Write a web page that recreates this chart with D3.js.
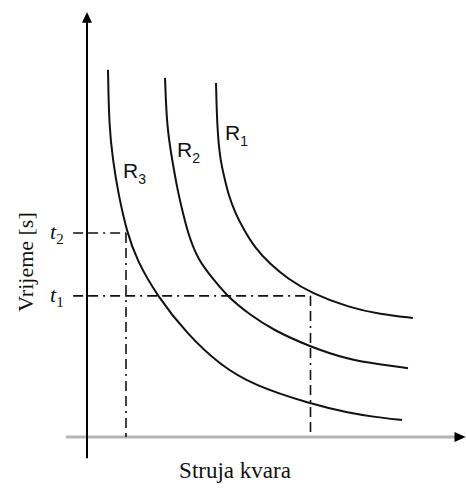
<!DOCTYPE html>
<html>
<head>
<meta charset="utf-8">
<script src="https://cdn.jsdelivr.net/npm/d3@7"></script>
<style>
  body { margin: 0; background: #fff; }
  svg { display: block; }
</style>
</head>
<body>
<div id="chart"></div>
<script>
// curve readings (current, time) in arbitrary units
const r1Current = [3.44, 3.47, 3.55, 3.68, 3.76, 3.95, 4.19, 4.48, 4.88, 5.36, 5.97, 7.01, 7.81, 8.69];
const r1Time = [8.33, 7.29, 6.52, 6.05, 5.74, 5.27, 4.87, 4.45, 4.07, 3.72, 3.39, 3.04, 2.89, 2.80];
const r2Current = [2.08, 2.13, 2.27, 2.43, 2.56, 2.69, 2.96, 3.39, 3.73, 4.35, 4.96, 5.95, 7.01, 7.81, 8.56];
const r2Time = [8.45, 7.29, 6.52, 5.74, 5.27, 4.80, 4.16, 3.69, 3.32, 2.87, 2.52, 2.12, 1.81, 1.71, 1.62];
const r3Current = [0.56, 0.59, 0.69, 0.83, 1.07, 1.33, 1.87, 2.67, 3.55, 4.43, 5.95, 7.01, 7.68, 8.40];
const r3Time = [8.64, 7.29, 6.52, 5.74, 4.80, 4.16, 3.32, 2.42, 1.69, 1.22, 0.78, 0.56, 0.47, 0.40];

const curveNames = ["1", "2", "3"];
const timeMarks = [3.32, 4.80];      // t1, t2
const timeLabels = ["1", "2"];
const markCurrent = [5.96, 1.04];    // where t1 / t2 drop to the current axis

const width = 466;
const height = 490;

const x = d3.scaleLinear().domain([0, 10]).range([87, 462]);
const y = d3.scaleLinear().domain([0, 10]).range([437, 12]);

const svg = d3
  .select("#chart")
  .append("svg")
  .attr("width", width)
  .attr("height", height);

const series = [
  d3.zip(r1Current, r1Time),
  d3.zip(r2Current, r2Time),
  d3.zip(r3Current, r3Time)
];

// x axis (grey) with arrow
svg
  .append("line")
  .attr("x1", x(-0.56))
  .attr("x2", x(9.95))
  .attr("y1", y(0))
  .attr("y2", y(0))
  .attr("stroke", "#b4b4b4")
  .attr("stroke-width", 3);

svg
  .append("path")
  .attr("d", `M${x(9.8)},${y(0) - 5}L${x(10.1)},${y(0)}L${x(9.8)},${y(0) + 5}Z`)
  .attr("fill", "#000");

// y axis with arrow
svg
  .append("line")
  .attr("x1", x(0))
  .attr("x2", x(0))
  .attr("y1", y(-0.5))
  .attr("y2", y(9.8))
  .attr("stroke", "#000")
  .attr("stroke-width", 2);

svg
  .append("path")
  .attr("d", `M${x(0) - 5},${y(9.75)}L${x(0)},${y(10)}L${x(0) + 5},${y(9.75)}Z`)
  .attr("fill", "#000");

// dash-dot guide lines
const dash = "10,5,10,5,2,5";
timeMarks.forEach((t, i) => {
  svg
    .append("line")
    .attr("x1", x(-0.37))
    .attr("x2", x(markCurrent[i]))
    .attr("y1", y(t))
    .attr("y2", y(t))
    .attr("stroke", "#111")
    .attr("stroke-width", 1.6)
    .attr("stroke-dasharray", dash);

  svg
    .append("line")
    .attr("x1", x(markCurrent[i]))
    .attr("x2", x(markCurrent[i]))
    .attr("y1", y(t))
    .attr("y2", y(0))
    .attr("stroke", "#111")
    .attr("stroke-width", 1.6)
    .attr("stroke-dasharray", dash);
});

// the three curves
const line = d3
  .line()
  .x((d) => x(d[0]))
  .y((d) => y(d[1]))
  .curve(d3.curveBasis);

svg
  .selectAll("path.curve")
  .data(series)
  .enter()
  .append("path")
  .attr("class", "curve")
  .attr("d", line)
  .attr("fill", "none")
  .attr("stroke", "#111")
  .attr("stroke-width", 2);

// curve labels R1..R3
const labelPos = [[225, 140], [177, 157], [123, 178]];
curveNames.forEach((n, i) => {
  const t = svg
    .append("text")
    .attr("x", labelPos[i][0])
    .attr("y", labelPos[i][1])
    .style("font-family", "Liberation Sans, Arial, sans-serif")
    .style("font-size", "21px")
    .style("fill", "#111");
  t.append("tspan").text("R");
  t.append("tspan")
    .attr("dy", 6)
    .style("font-size", "14px")
    .text(n);
});

// t1, t2 labels
timeMarks.forEach((tm, i) => {
  const t = svg
    .append("text")
    .attr("x", 50)
    .attr("y", y(tm) + 6)
    .style("font-family", "Liberation Serif, Times New Roman, serif")
    .style("font-style", "italic")
    .style("font-size", "22px")
    .style("fill", "#111");
  t.append("tspan").text("t");
  t.append("tspan")
    .attr("dy", 5)
    .style("font-style", "normal")
    .style("font-size", "15px")
    .text(timeLabels[i]);
});

// axis titles
svg
  .append("text")
  .attr("text-anchor", "middle")
  .attr("transform", "translate(33,262) rotate(-90)")
  .style("font-family", "Liberation Serif, Times New Roman, serif")
  .style("font-size", "22px")
  .style("fill", "#111")
  .text("Vrijeme [s]");

svg
  .append("text")
  .attr("text-anchor", "middle")
  .attr("x", 235)
  .attr("y", 478)
  .style("font-family", "Liberation Serif, Times New Roman, serif")
  .style("font-size", "23px")
  .style("fill", "#111")
  .text("Struja kvara");
</script>
</body>
</html>
